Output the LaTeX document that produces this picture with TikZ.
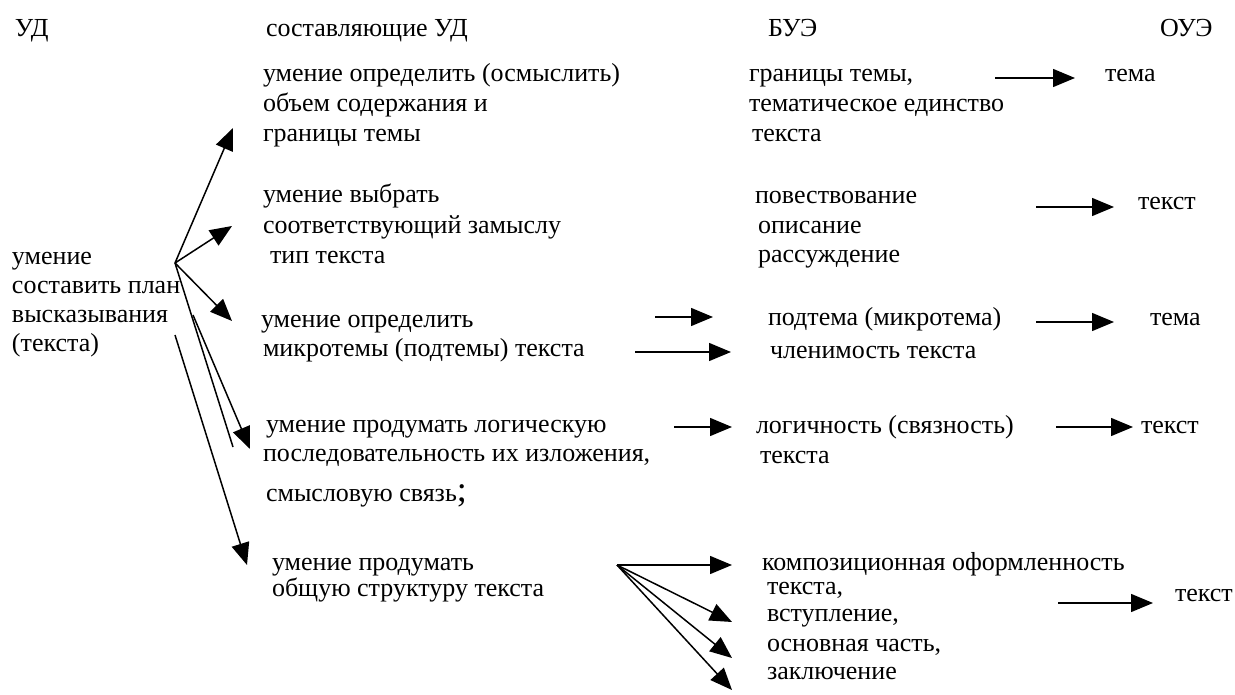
\documentclass[tikz,border=0pt]{standalone}
\usepackage{fontspec}
\setmainfont{Liberation Serif}
\usetikzlibrary{arrows.meta}
\tikzset{
  txt/.style={anchor=base west, inner sep=0pt, outer sep=0pt, font=\fontsize{26}{29}\selectfont},
  arr/.style={line width=1.5pt, -{Triangle[length=22pt,width=18pt]}},
  ln/.style={line width=1.5pt}
}
\begin{document}
\begin{tikzpicture}[x=1pt,y=-1pt]
\useasboundingbox (0,0) rectangle (1235,695);

% column headings
\node[txt] (h1) at (15,37) {УД};
\node[txt] (h2) at (266,37) {составляющие УД};
\node[txt] (h3) at (768,37) {БУЭ};
\node[txt] (h4) at (1160,37) {ОУЭ};

% the skill being analysed
\node[txt] (u1) at (12,265) {умение};
\node[txt] (u2) at (12,294) {составить план};
\node[txt] (u3) at (12,323) {высказывания};
\node[txt] (u4) at (12,352) {(текста)};

% its components
\node[txt] (a1) at (263,82) {умение определить (осмыслить)};
\node[txt] (a2) at (263,112) {объем содержания и};
\node[txt] (a3) at (263,142) {границы темы};

\node[txt] (b1) at (263,203) {умение выбрать};
\node[txt] (b2) at (263,234) {соответствующий замыслу};
\node[txt] (b3) at (270,264) {тип текста};

\node[txt] (c1) at (261,327) {умение определить};
\node[txt] (c2) at (263,356) {микротемы (подтемы) текста};

\node[txt] (d1) at (266,432) {умение продумать логическую};
\node[txt] (d2) at (263,461) {последовательность их изложения,};
\node[txt] (d3) at (266,501) {смысловую связь{\fontsize{36}{36}\selectfont;}};

\node[txt] (e1) at (272,570) {умение продумать};
\node[txt] (e2) at (272,596) {общую структуру текста};

% basic units
\node[txt] (p1) at (749,82) {границы темы,};
\node[txt] (p2) at (749,112) {тематическое единство};
\node[txt] (p3) at (752,142) {текста};

\node[txt] (q1) at (755,204) {повествование};
\node[txt] (q2) at (758,234) {описание};
\node[txt] (q3) at (758,263) {рассуждение};

\node[txt] (r1) at (768,326) {подтема (микротема)};
\node[txt] (r2) at (770,358) {членимость текста};

\node[txt] (s1) at (756,433) {логичность (связность)};
\node[txt] (s2) at (760,463) {текста};

\node[txt] (t1) at (762,570) {композиционная оформленность};
\node[txt] (t2) at (767,594) {текста,};
\node[txt] (t3) at (767,621) {вступление,};
\node[txt] (t4) at (767,651) {основная часть,};
\node[txt] (t5) at (767,679) {заключение};

% generalised units
\node[txt] (o1) at (1105,82) {тема};
\node[txt] (o2) at (1138,210) {текст};
\node[txt] (o3) at (1150,326) {тема};
\node[txt] (o4) at (1141,433) {текст};
\node[txt] (o5) at (1175,601) {текст};

% left fan
\coordinate (P) at (175,263);
\coordinate (Pa) at (233,128);
\coordinate (Pb) at (232,226);
\coordinate (Pc) at (232,321);
\coordinate (Pd) at (233,447);
\coordinate (Ps) at (193,315);
\coordinate (Pe) at (250,449);
\coordinate (Pt) at (175,335);
\coordinate (Pf) at (247,565);
\draw[arr] (P) -- (Pa);
\draw[arr] (P) -- (Pb);
\draw[arr] (P) -- (Pc);
\draw[ln] (P) -- (Pd);
\draw[arr] (Ps) -- (Pe);
\draw[arr] (Pt) -- (Pf);

% arrows between the columns
\coordinate (A0) at (995,78);   \coordinate (A1) at (1075,78);
\coordinate (B0) at (1036,207); \coordinate (B1) at (1114,207);
\coordinate (C0) at (655,317);  \coordinate (C1) at (713,317);
\coordinate (C2) at (635,352);  \coordinate (C3) at (731,352);
\coordinate (C4) at (1036,322); \coordinate (C5) at (1114,322);
\coordinate (D0) at (674,427);  \coordinate (D1) at (732,427);
\coordinate (D2) at (1056,427); \coordinate (D3) at (1133,427);
\coordinate (E0) at (1058,603); \coordinate (E1) at (1153,603);
\draw[arr] (A0) -- (A1);
\draw[arr] (B0) -- (B1);
\draw[arr] (C0) -- (C1);
\draw[arr] (C2) -- (C3);
\draw[arr] (C4) -- (C5);
\draw[arr] (D0) -- (D1);
\draw[arr] (D2) -- (D3);
\draw[arr] (E0) -- (E1);

% bottom fan
\coordinate (Q) at (617,565);
\coordinate (Q1) at (732,565);
\coordinate (Q2) at (732,622);
\coordinate (Q3) at (732,658);
\coordinate (Q4) at (732,690);
\draw[arr] (Q) -- (Q1);
\draw[arr] (Q) -- (Q2);
\draw[arr] (Q) -- (Q3);
\draw[arr] (Q) -- (Q4);
\end{tikzpicture}
\end{document}
